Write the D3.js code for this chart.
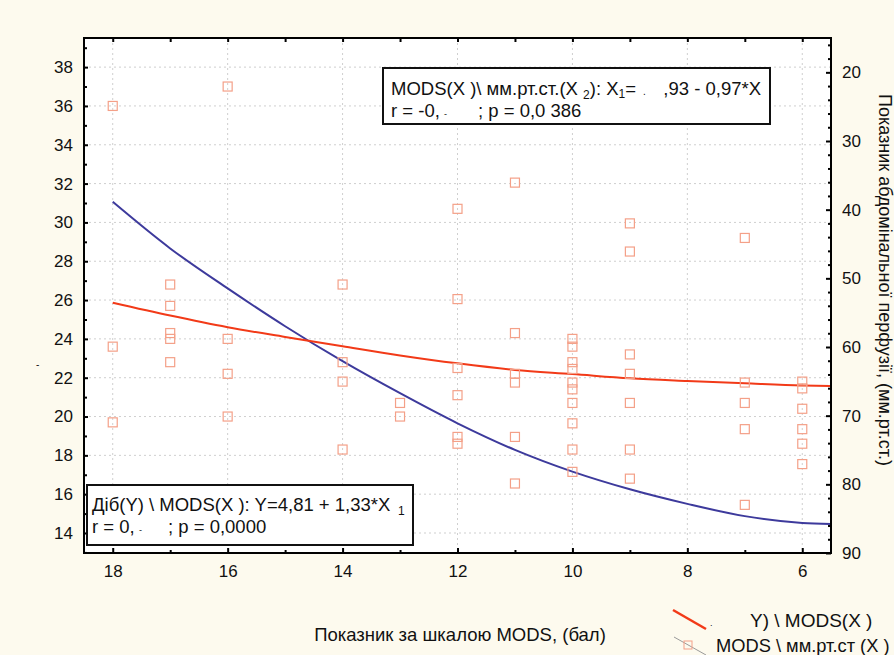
<!DOCTYPE html>
<html>
  <head>
    <meta charset="utf-8">
    <title></title>
    <script src="https://d3js.org/d3.v7.min.js"></script>
  </head>
  <style>
    body { margin: 0; background: #fdfaee; }
    svg text { font-family: "Liberation Sans", Arial, sans-serif; fill: #111; }
  </style>
  <body>
  <svg width="894" height="655"></svg>
  <script>

  // ticks
  var xTicks = [18, 16, 14, 12, 10, 8, 6];
  var xMinor = [17, 15, 13, 11, 9, 7];
  var leftTicks = [14, 16, 18, 20, 22, 24, 26, 28, 30, 32, 34, 36, 38];
  var leftMinor = [13, 15, 17, 19, 21, 23, 25, 27, 29, 31, 33, 35, 37, 39];
  var rightTicks = [20, 30, 40, 50, 60, 70, 80, 90];
  var rightMinor = d3.range(16, 90, 2).filter(function(d) { return d % 10 != 0; });

  // fitted curves
  var curveX = [18, 17, 16, 15, 14, 13, 12, 11, 10, 9, 8, 7, 6, 5.5];
  var redY = [25.86, 25.2, 24.6, 24.1, 23.62, 23.15, 22.74, 22.4, 22.19, 21.97, 21.83, 21.71, 21.6, 21.57];
  var blueY = [31.06, 28.66, 26.6, 24.65, 22.85, 21.2, 19.65, 18.28, 17.16, 16.25, 15.5, 14.87, 14.52, 14.47];

  // scatter points, one column per MODS score
  var scatterX = [18, 17, 16, 14, 13, 12, 11, 10, 9, 7, 6];
  var scatterY = [
    [36, 23.6, 19.7],
    [26.8, 25.7, 24.3, 24.0, 22.8],
    [37.0, 24.0, 22.2, 20.0],
    [26.8, 22.8, 21.8, 18.3],
    [20.7, 20.0],
    [30.7, 26.05, 22.5, 21.1, 18.95, 18.6],
    [32.05, 24.3, 22.2, 21.75, 18.95, 16.55],
    [24.0, 23.6, 22.8, 22.45, 21.75, 21.4, 20.7, 19.65, 18.3, 17.15],
    [29.95, 28.5, 23.2, 22.2, 20.7, 18.3, 16.8],
    [29.2, 21.75, 20.7, 19.35, 15.45],
    [21.8, 21.45, 20.4, 19.35, 18.6, 17.55]
  ];

  var svg = d3.select("svg");
  var pL = 84, pR = 831, pT = 38, pB = 553;

  svg.append("rect").attr("width", 894).attr("height", 655).attr("fill", "#fdfaee");
  svg.append("rect").attr("x", pL).attr("y", pT)
     .attr("width", pR - pL).attr("height", pB - pT).attr("fill", "#fff");

  var x = d3.scaleLinear().domain([18.5, 5.5]).range([pL, pR]);
  var yL = d3.scaleLinear().domain([12.97, 39.5]).range([pB, pT]);
  var yR = d3.scaleLinear().domain([90, 15]).range([pB, pT]);

  // grid
  var grid = svg.append("g").attr("stroke", "#cfcfcf").attr("stroke-dasharray", "2,3");
  grid.selectAll(".gx").data(xTicks).enter().append("line")
    .attr("x1", function(d) { return x(d); }).attr("x2", function(d) { return x(d); })
    .attr("y1", pT).attr("y2", pB);
  grid.selectAll(".gy").data(leftTicks).enter().append("line")
    .attr("y1", function(d) { return yL(d); }).attr("y2", function(d) { return yL(d); })
    .attr("x1", pL).attr("x2", pR);

  // curves
  var line = d3.line().curve(d3.curveMonotoneX)
    .x(function(d) { return x(d[0]); }).y(function(d) { return yL(d[1]); });

  svg.append("path").datum(d3.zip(curveX, blueY))
    .attr("d", line).attr("fill", "none").attr("stroke", "#3d3a9c").attr("stroke-width", 2);
  svg.append("path").datum(d3.zip(curveX, redY))
    .attr("d", line).attr("fill", "none").attr("stroke", "#f23a18").attr("stroke-width", 2);

  // points
  var pts = [];
  scatterX.forEach(function(v, i) {
    scatterY[i].forEach(function(w) { pts.push([v, w]); });
  });
  svg.append("g").selectAll("rect").data(pts).enter().append("rect")
    .attr("x", function(d) { return x(d[0]) - 4.5; })
    .attr("y", function(d) { return yL(d[1]) - 4.5; })
    .attr("width", 9).attr("height", 9)
    .attr("fill", "none").attr("stroke", "#f4a088").attr("stroke-width", 1.2);

  // axes (ticks point inward)
  function styleAxis(g) {
    g.select(".domain").remove();
    g.selectAll(".tick line").attr("stroke", "#000").attr("stroke-width", 2);
    g.selectAll(".tick text").style("font-size", "17px").attr("fill", "#111");
  }

  svg.append("g").attr("transform", "translate(0," + pB + ")")
    .call(d3.axisBottom(x).tickValues(xTicks).tickSize(-5).tickPadding(12).tickFormat(d3.format("d")))
    .call(styleAxis);
  svg.append("g").attr("transform", "translate(0," + pB + ")")
    .call(d3.axisBottom(x).tickValues(xMinor).tickSize(-3).tickFormat(""))
    .call(styleAxis);
  svg.append("g").attr("transform", "translate(0," + pT + ")")
    .call(d3.axisTop(x).tickValues(xTicks.concat(xMinor)).tickSize(-4).tickFormat(""))
    .call(styleAxis);

  svg.append("g").attr("transform", "translate(" + pL + ",0)")
    .call(d3.axisLeft(yL).tickValues(leftTicks).tickSize(-4).tickPadding(11).tickFormat(d3.format("d")))
    .call(styleAxis);
  svg.append("g").attr("transform", "translate(" + pL + ",0)")
    .call(d3.axisLeft(yL).tickValues(leftMinor).tickSize(-3).tickFormat(""))
    .call(styleAxis);

  svg.append("g").attr("transform", "translate(" + pR + ",0)")
    .call(d3.axisRight(yR).tickValues(rightTicks).tickSize(-5).tickPadding(11).tickFormat(d3.format("d")))
    .call(styleAxis);
  svg.append("g").attr("transform", "translate(" + pR + ",0)")
    .call(d3.axisRight(yR).tickValues(rightMinor).tickSize(-3).tickFormat(""))
    .call(styleAxis);

  // frame
  svg.append("rect").attr("x", pL).attr("y", pT)
    .attr("width", pR - pL).attr("height", pB - pT)
    .attr("fill", "none").attr("stroke", "#000").attr("stroke-width", 2);

  // annotation boxes
  function box(x0, y0, w, h) {
    svg.append("rect").attr("x", x0).attr("y", y0).attr("width", w).attr("height", h)
      .attr("fill", "#fff").attr("stroke", "#111").attr("stroke-width", 2);
  }
  function txt(x0, y0, s, size, color) {
    return svg.append("text").attr("x", x0).attr("y", y0)
      .style("font-size", (size || 18.5) + "px").attr("fill", color || "#111").text(s);
  }

  box(383, 68, 387, 56);
  var t1 = txt(391, 95, "");
  t1.append("tspan").text("MODS(X )\\ мм.рт.ст.(X ");
  t1.append("tspan").attr("dy", 4).style("font-size", "12px").text("2");
  t1.append("tspan").attr("dy", -4).text("): X");
  t1.append("tspan").attr("dy", 3).style("font-size", "12px").text("1");
  t1.append("tspan").attr("dy", -3).text("=");
  txt(643, 95, ".", 10, "#bbb");
  txt(761, 95, ",93 - 0,97*X").attr("text-anchor", "end");
  txt(391, 117, "r = -0,");
  txt(444, 117, "-", 9, "#bbb");
  txt(478, 117, "; p = 0,0 386");

  box(87, 485, 326, 60);
  txt(92, 511, "Діб(Y) \\ MODS(X ): Y=4,81 + 1,33*X");
  txt(398, 515, "1", 12);
  txt(92, 533, "r = 0,");
  txt(139, 533, "-", 9, "#bbb");
  txt(168, 533, "; p = 0,0000");

  // axis titles
  txt(460, 641, "Показник за шкалою MODS, (бал)", 18.5).attr("text-anchor", "middle");
  svg.append("text").attr("transform", "translate(879,280) rotate(90)")
    .attr("text-anchor", "middle").style("font-size", "18px")
    .text("Показник абдомінальної перфузії, (мм.рт.ст.)");
  txt(36, 368, "-", 10, "#888");

  // legend
  svg.append("line").attr("x1", 673).attr("y1", 610).attr("x2", 706).attr("y2", 629)
    .attr("stroke", "#f23a18").attr("stroke-width", 2.5);
  txt(710, 626, ".", 9, "#888");
  txt(750, 627, "Y) \\ MODS(X )", 19);
  svg.append("line").attr("x1", 674).attr("y1", 637).attr("x2", 706).attr("y2", 655)
    .attr("stroke", "#999").attr("stroke-width", 1);
  svg.append("rect").attr("x", 684).attr("y", 641).attr("width", 8).attr("height", 8)
    .attr("fill", "none").attr("stroke", "#f4a088").attr("stroke-width", 1);
  txt(716, 652, "MODS \\ мм.рт.ст (X )", 18.3);

  </script>
  </body>
</html>
